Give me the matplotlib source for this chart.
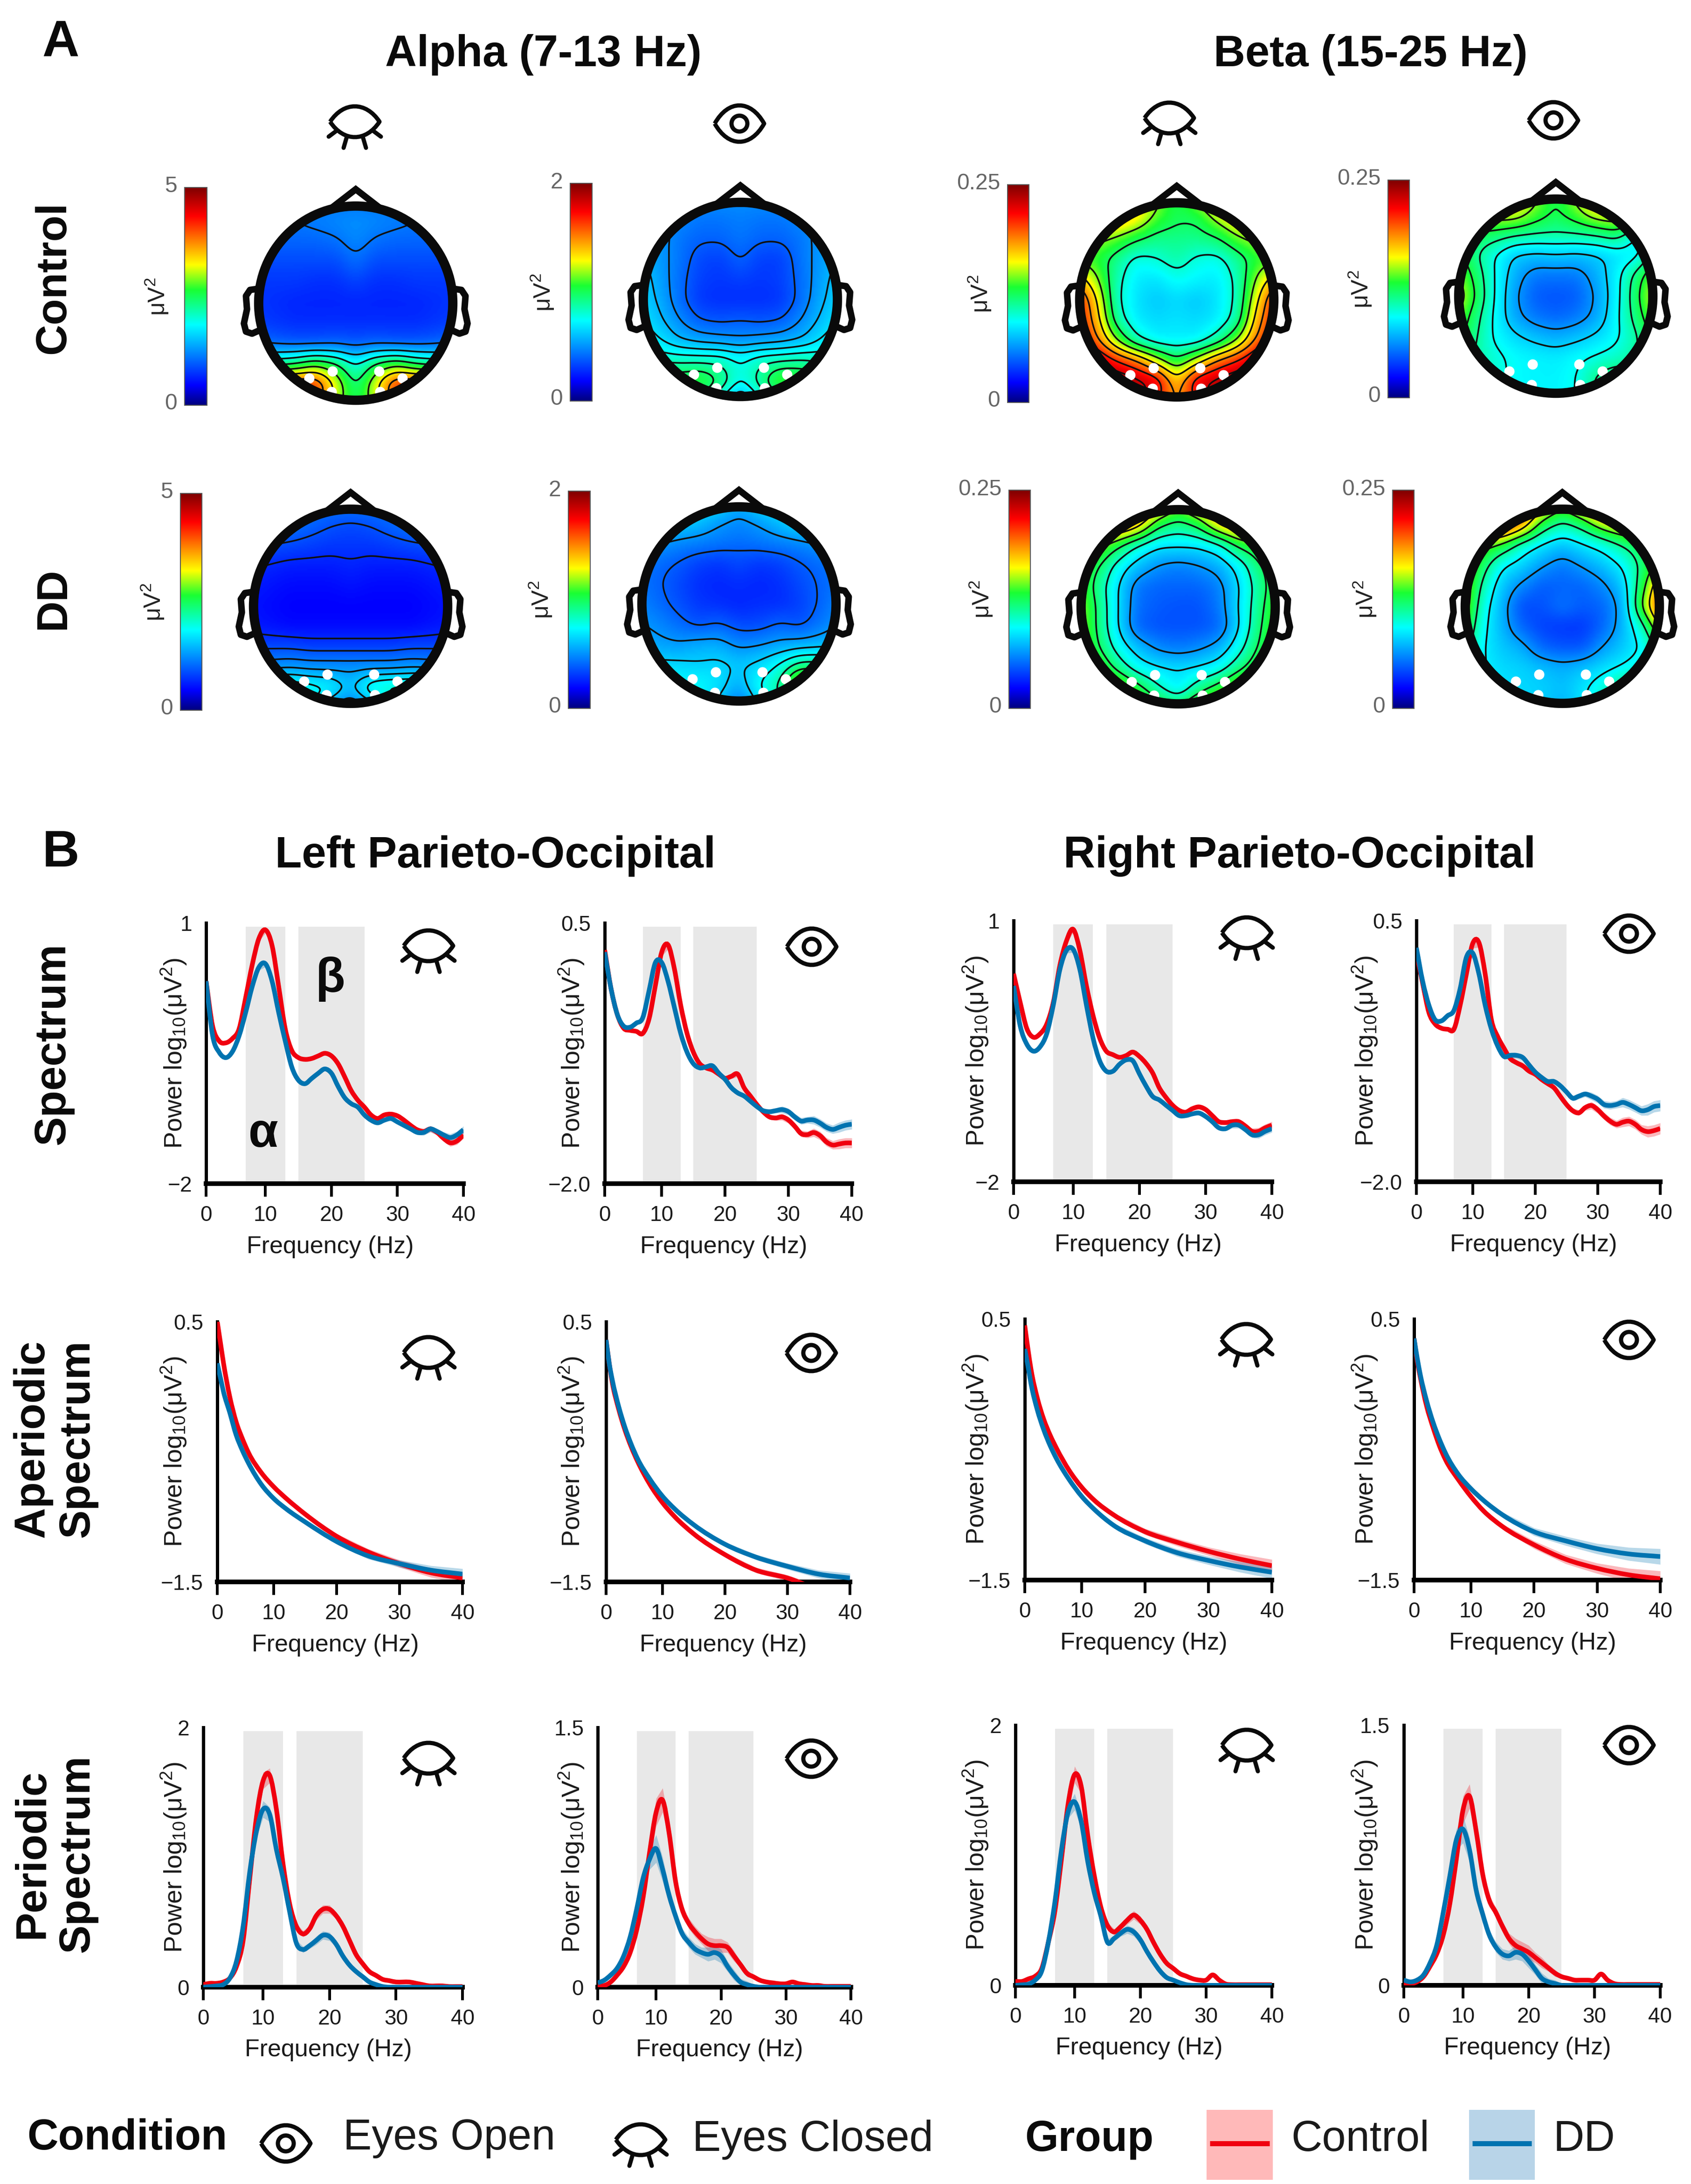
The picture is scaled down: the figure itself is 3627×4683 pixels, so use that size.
#!/usr/bin/env python3
import numpy as np
import matplotlib
matplotlib.use('Agg')
import matplotlib.pyplot as plt
from matplotlib.colors import LinearSegmentedColormap
from matplotlib.patches import Circle, PathPatch, Rectangle
from matplotlib.path import Path

W, H = 3627, 4683
RED = '#f0000f'
BLUE = '#0073b0'
GREY_BAND = '#e8e8e8'

plt.rcParams['font.family'] = ['Liberation Sans', 'DejaVu Sans']
plt.rcParams['mathtext.default'] = 'regular'

# topomap values as fraction of the colour bar, rows run front to back
MAP_CTRL_ALPHA_EC = [
    [.22, .22, .22, .22, .22, .22, .22, .22, .22, .22, .22],
    [.22, .22, .22, .23, .24, .25, .24, .23, .22, .22, .22],
    [.20, .20, .20, .20, .21, .24, .21, .20, .20, .20, .20],
    [.17, .17, .17, .17, .17, .21, .17, .17, .17, .17, .17],
    [.15, .15, .15, .14, .14, .16, .14, .14, .15, .15, .15],
    [.15, .14, .13, .13, .13, .13, .13, .13, .13, .14, .15],
    [.16, .15, .14, .14, .14, .14, .14, .14, .14, .15, .16],
    [.22, .20, .19, .19, .20, .19, .20, .19, .19, .20, .22],
    [.45, .45, .48, .55, .50, .38, .50, .55, .48, .45, .45],
    [.85, .85, .84, .84, .64, .46, .64, .84, .84, .85, .85],
    [.80, .80, .80, .78, .60, .50, .60, .78, .80, .80, .80],
]
MAP_CTRL_ALPHA_EO = [
    [.25, .25, .25, .25, .25, .25, .25, .25, .25, .25, .25],
    [.26, .26, .24, .22, .22, .23, .22, .22, .24, .26, .26],
    [.28, .26, .22, .20, .20, .22, .20, .20, .22, .26, .28],
    [.30, .26, .22, .17, .16, .20, .16, .16, .22, .26, .30],
    [.32, .27, .21, .16, .15, .16, .15, .16, .21, .27, .32],
    [.33, .28, .21, .15, .14, .14, .14, .15, .21, .28, .33],
    [.35, .30, .24, .19, .18, .19, .18, .19, .24, .30, .35],
    [.38, .34, .29, .27, .26, .25, .26, .27, .29, .34, .38],
    [.42, .42, .42, .42, .42, .38, .42, .43, .44, .42, .42],
    [.52, .54, .52, .54, .48, .38, .46, .56, .54, .52, .52],
    [.50, .50, .46, .45, .38, .25, .38, .45, .46, .50, .50],
]
MAP_DD_ALPHA_EC = [
    [.22, .22, .22, .22, .22, .22, .22, .22, .22, .22, .22],
    [.22, .22, .22, .20, .18, .17, .18, .20, .22, .22, .22],
    [.19, .18, .17, .16, .15, .15, .15, .16, .17, .18, .19],
    [.14, .13, .12, .12, .12, .13, .12, .12, .12, .13, .14],
    [.12, .11, .10, .10, .10, .11, .10, .10, .10, .11, .12],
    [.11, .10, .09, .09, .09, .09, .09, .09, .09, .10, .11],
    [.12, .11, .10, .10, .10, .10, .10, .10, .10, .11, .12],
    [.17, .17, .17, .16, .16, .16, .16, .16, .17, .17, .17],
    [.25, .25, .26, .25, .25, .25, .25, .25, .26, .25, .25],
    [.35, .40, .40, .38, .36, .30, .40, .42, .42, .45, .45],
    [.32, .36, .36, .35, .26, .20, .26, .35, .40, .42, .42],
]
MAP_DD_ALPHA_EO = [
    [.36, .36, .36, .36, .34, .28, .34, .36, .36, .36, .36],
    [.32, .32, .32, .30, .26, .24, .26, .30, .34, .34, .32],
    [.26, .26, .24, .23, .22, .21, .22, .23, .24, .26, .26],
    [.22, .21, .19, .16, .15, .17, .15, .16, .19, .21, .22],
    [.22, .20, .17, .14, .13, .14, .13, .14, .17, .20, .22],
    [.24, .21, .18, .15, .14, .13, .14, .14, .16, .20, .24],
    [.26, .24, .21, .18, .20, .17, .17, .20, .18, .22, .26],
    [.29, .27, .26, .28, .28, .24, .25, .27, .28, .29, .30],
    [.33, .33, .33, .32, .33, .31, .33, .38, .46, .46, .42],
    [.38, .38, .37, .37, .34, .28, .38, .44, .66, .62, .50],
    [.36, .36, .36, .36, .30, .20, .32, .42, .54, .54, .50],
]
MAP_CTRL_BETA_EC = [
    [.75, .75, .75, .70, .60, .50, .60, .70, .75, .75, .75],
    [.72, .72, .72, .66, .55, .50, .50, .60, .68, .72, .72],
    [.60, .60, .56, .50, .46, .46, .46, .48, .56, .60, .60],
    [.55, .53, .46, .38, .40, .44, .39, .38, .45, .53, .55],
    [.72, .60, .43, .35, .34, .38, .36, .35, .42, .60, .72],
    [.88, .68, .42, .34, .31, .33, .31, .34, .42, .66, .88],
    [.88, .72, .45, .35, .33, .34, .33, .35, .44, .72, .88],
    [.88, .78, .58, .42, .36, .36, .36, .44, .58, .78, .88],
    [.98, .95, .84, .76, .62, .50, .62, .76, .84, .95, .98],
    [1.0, 1.0, 1.0, .95, .90, .68, .90, .95, 1.0, 1.0, 1.0],
    [1.0, 1.0, 1.0, .95, .85, .72, .85, .95, 1.0, 1.0, 1.0],
]
MAP_CTRL_BETA_EO = [
    [.70, .70, .70, .70, .60, .50, .60, .72, .72, .70, .70],
    [.60, .60, .62, .62, .55, .50, .55, .62, .64, .62, .60],
    [.50, .50, .48, .45, .44, .44, .44, .45, .48, .36, .40],
    [.55, .46, .38, .31, .30, .31, .30, .31, .34, .36, .50],
    [.60, .50, .38, .28, .22, .22, .22, .28, .36, .48, .60],
    [.65, .52, .38, .26, .19, .18, .19, .26, .36, .50, .65],
    [.60, .48, .37, .27, .22, .20, .22, .27, .37, .48, .60],
    [.55, .46, .37, .33, .30, .28, .30, .33, .37, .44, .55],
    [.50, .44, .40, .37, .36, .35, .37, .39, .41, .45, .50],
    [.45, .44, .40, .37, .36, .36, .38, .46, .50, .45, .45],
    [.45, .45, .42, .38, .36, .36, .38, .46, .48, .45, .45],
]
MAP_DD_BETA_EC = [
    [.80, .80, .80, .80, .70, .58, .68, .75, .75, .75, .75],
    [.75, .75, .75, .68, .50, .45, .50, .65, .72, .72, .72],
    [.62, .60, .50, .40, .34, .34, .34, .38, .50, .55, .60],
    [.58, .50, .38, .30, .25, .23, .25, .28, .36, .48, .55],
    [.58, .46, .34, .22, .20, .20, .20, .23, .33, .45, .55],
    [.62, .48, .34, .21, .19, .18, .18, .22, .34, .46, .58],
    [.62, .48, .34, .20, .18, .18, .18, .20, .33, .48, .58],
    [.62, .50, .38, .30, .24, .22, .24, .28, .38, .50, .58],
    [.66, .58, .46, .37, .34, .33, .34, .37, .46, .55, .62],
    [.68, .68, .62, .52, .42, .35, .45, .52, .62, .68, .68],
    [.70, .70, .68, .62, .55, .50, .60, .68, .72, .72, .70],
]
MAP_DD_BETA_EO = [
    [.95, .95, .95, .85, .70, .58, .70, .85, .90, .85, .85],
    [.85, .85, .85, .72, .50, .42, .48, .60, .66, .66, .66],
    [.58, .58, .52, .40, .34, .30, .34, .38, .45, .52, .58],
    [.62, .50, .36, .32, .26, .22, .26, .30, .36, .48, .60],
    [.66, .44, .31, .24, .19, .20, .20, .24, .31, .52, .80],
    [.66, .40, .29, .17, .18, .22, .19, .20, .28, .58, .88],
    [.60, .38, .29, .20, .16, .15, .15, .20, .29, .42, .70],
    [.52, .36, .31, .28, .20, .18, .18, .26, .31, .36, .52],
    [.46, .36, .33, .32, .30, .28, .30, .33, .36, .40, .48],
    [.42, .38, .34, .33, .32, .30, .34, .40, .48, .48, .46],
    [.42, .38, .34, .33, .32, .28, .34, .42, .50, .50, .46],
]
ELECTRODE_X = [-.46, -.23, -.24, .23, .24, .46]
ELECTRODE_Y = [-.74, -.67, -.87, -.67, -.87, -.74]
SCALE_LABELS = ['5', '2', '5', '2', '0.25', '0.25', '0.25', '0.25']

# frequency grids (Hz)
FREQ = list(range(1, 41))
FREQ_APERIODIC = [1, 1.5, 2, 3, 4, 5, 6, 8, 10, 12, 15, 20, 25, 30, 35, 40]

# full spectrum, log10 power
SPEC_L_EC_CTRL = [.33, -.19, -.36, -.38, -.33, -.22, .14, .52, .82, .92, .74, .27, -.22, -.47, -.55, -.57, -.56, -.53, -.50, -.53,
                  -.62, -.77, -.93, -1.04, -1.12, -1.21, -1.25, -1.21, -1.20, -1.22, -1.27, -1.33, -1.38, -1.40, -1.37, -1.41, -1.48, -1.53, -1.51, -1.44]
SPEC_L_EC_DD = [.33, -.30, -.49, -.55, -.48, -.30, -.03, .27, .49, .53, .33, -.03, -.36, -.66, -.81, -.85, -.79, -.73, -.68, -.73,
                -.88, -1.01, -1.08, -1.12, -1.21, -1.27, -1.30, -1.27, -1.25, -1.29, -1.33, -1.37, -1.41, -1.41, -1.37, -1.40, -1.44, -1.47, -1.44, -1.38]
SPEC_L_EO_CTRL = [.24, -.13, -.38, -.51, -.53, -.54, -.56, -.42, -.10, .22, .29, .06, -.29, -.56, -.74, -.85, -.89, -.91, -.95, -.99,
                  -.97, -.95, -1.08, -1.16, -1.24, -1.31, -1.36, -1.37, -1.36, -1.39, -1.45, -1.52, -1.53, -1.51, -1.54, -1.60, -1.63, -1.62, -1.61, -1.61]
SPEC_L_EO_DD = [.22, -.13, -.38, -.49, -.50, -.46, -.41, -.15, .12, .12, -.06, -.31, -.56, -.74, -.85, -.89, -.88, -.87, -.94, -1.00,
                -1.08, -1.13, -1.16, -1.21, -1.26, -1.30, -1.31, -1.30, -1.29, -1.31, -1.36, -1.40, -1.39, -1.39, -1.42, -1.46, -1.48, -1.46, -1.44, -1.43]
SPEC_R_EC_CTRL = [.39, .06, -.24, -.34, -.30, -.19, .06, .49, .77, .90, .66, .25, -.09, -.35, -.50, -.54, -.57, -.55, -.51, -.56,
                  -.64, -.75, -.92, -1.03, -1.12, -1.18, -1.20, -1.16, -1.14, -1.17, -1.24, -1.31, -1.32, -1.31, -1.31, -1.36, -1.42, -1.42, -1.38, -1.35]
SPEC_R_EC_DD = [.25, -.21, -.42, -.50, -.45, -.30, .03, .44, .66, .67, .44, .03, -.35, -.61, -.73, -.73, -.65, -.60, -.61, -.76,
                -.90, -1.02, -1.06, -1.12, -1.18, -1.24, -1.24, -1.22, -1.21, -1.25, -1.31, -1.38, -1.39, -1.35, -1.35, -1.40, -1.46, -1.46, -1.42, -1.39]
SPEC_R_EO_CTRL = [.19, -.10, -.38, -.49, -.53, -.54, -.54, -.31, -.01, .28, .29, -.01, -.45, -.61, -.72, -.82, -.86, -.89, -.94, -.97,
                  -1.02, -1.06, -1.10, -1.18, -1.26, -1.32, -1.34, -1.29, -1.27, -1.31, -1.37, -1.42, -1.45, -1.43, -1.42, -1.45, -1.50, -1.52, -1.51, -1.49]
SPEC_R_EO_DD = [.24, -.08, -.31, -.45, -.46, -.41, -.36, -.15, .15, .19, -.01, -.31, -.54, -.70, -.80, -.79, -.79, -.81, -.88, -.95,
                -1.00, -1.04, -1.04, -1.08, -1.14, -1.20, -1.18, -1.16, -1.18, -1.21, -1.26, -1.27, -1.26, -1.24, -1.26, -1.29, -1.32, -1.31, -1.28, -1.27]

# aperiodic component
APER_L_EC_CTRL = [.50, .34, .18, -.08, -.27, -.40, -.51, -.66, -.77, -.86, -.98, -1.15, -1.27, -1.36, -1.43, -1.47]
APER_L_EC_DD = [.18, .07, -.04, -.20, -.37, -.49, -.59, -.75, -.86, -.94, -1.04, -1.19, -1.30, -1.36, -1.41, -1.44]
APER_L_EO_CTRL = [.36, .18, .03, -.17, -.33, -.46, -.57, -.75, -.89, -1.00, -1.13, -1.29, -1.41, -1.47, -1.56, -1.64]
APER_L_EO_DD = [.36, .18, .05, -.15, -.31, -.44, -.55, -.71, -.84, -.94, -1.06, -1.21, -1.31, -1.38, -1.44, -1.47]
APER_R_EC_CTRL = [.45, .27, .11, -.11, -.27, -.39, -.49, -.66, -.79, -.89, -1.00, -1.13, -1.21, -1.28, -1.34, -1.39]
APER_R_EC_DD = [.27, .14, .00, -.20, -.35, -.47, -.57, -.73, -.86, -.96, -1.08, -1.20, -1.29, -1.35, -1.40, -1.44]
APER_R_EO_CTRL = [.35, .18, .05, -.17, -.33, -.47, -.58, -.73, -.86, -.97, -1.09, -1.23, -1.34, -1.41, -1.46, -1.49]
APER_R_EO_DD = [.35, .20, .07, -.13, -.29, -.42, -.53, -.69, -.80, -.89, -1.00, -1.13, -1.20, -1.26, -1.30, -1.32]

# periodic component
PER_L_EC_CTRL = [.02, .03, .03, .04, .07, .16, .36, .84, 1.31, 1.59, 1.63, 1.37, .95, .64, .47, .41, .45, .55, .60, .60,
                 .55, .47, .36, .25, .18, .12, .09, .06, .05, .04, .04, .04, .03, .02, .01, .01, .01, .005, .005, .005]
PER_L_EC_DD = [0, .005, .01, .02, .07, .20, .47, .89, 1.20, 1.37, 1.33, 1.06, .84, .58, .34, .29, .32, .36, .40, .39,
               .33, .24, .17, .12, .08, .04, .02, .005, 0, 0, 0, 0, 0, 0, 0, 0, 0, 0, 0, 0]
PER_L_EO_CTRL = [.01, .01, .03, .07, .12, .20, .33, .52, .78, 1.01, 1.08, .89, .61, .45, .37, .32, .28, .25, .24, .24,
                 .23, .18, .13, .08, .06, .04, .03, .025, .02, .02, .03, .02, .015, .01, .01, .005, .005, .005, .005, .005]
PER_L_EO_DD = [.025, .04, .07, .11, .18, .29, .45, .63, .74, .80, .68, .53, .41, .31, .26, .22, .20, .19, .20, .18,
               .12, .07, .03, .015, .005, 0, 0, 0, 0, 0, 0, 0, 0, 0, 0, 0, 0, 0, 0, 0]
PER_R_EC_CTRL = [.03, .03, .05, .07, .13, .33, .57, .97, 1.39, 1.62, 1.53, 1.15, .84, .60, .46, .41, .45, .50, .54, .50,
                 .43, .33, .24, .17, .13, .09, .07, .05, .04, .04, .08, .04, .01, .005, .005, .005, .005, .005, .005, .005]
PER_R_EC_DD = [0, .004, .01, .04, .11, .33, .64, 1.04, 1.33, 1.41, 1.26, .95, .71, .53, .33, .36, .40, .43, .41, .35,
               .26, .18, .11, .06, .04, .02, .005, 0, 0, 0, 0, 0, 0, 0, 0, 0, 0, 0, 0, 0]
PER_R_EO_CTRL = [.01, .01, .02, .05, .11, .18, .29, .47, .73, 1.01, 1.09, .89, .64, .49, .42, .34, .27, .23, .21, .19,
                 .16, .13, .10, .07, .05, .04, .03, .03, .03, .03, .065, .03, .01, .005, .005, .005, .005, .005, .005, .005]
PER_R_EO_DD = [.03, .02, .03, .06, .13, .23, .42, .63, .84, .90, .78, .55, .41, .29, .22, .18, .17, .19, .18, .14,
               .09, .04, .02, .01, 0, 0, 0, 0, 0, 0, 0, 0, 0, 0, 0, 0, 0, 0, 0, 0]

# standard error per row
SEM_SPEC = [.02, .02, .02, .02, .02, .02, .03, .04, .05, .05, .05, .04, .03, .03, .03, .03, .03, .03, .03, .03,
            .03, .03, .03, .03, .03, .03, .03, .03, .04, .04, .04, .04, .04, .05, .05, .05, .05, .06, .06, .06]
SEM_APER = [.005, .005, .005, .005, .005, .005, .01, .01, .015, .02, .02, .03, .035, .04, .05, .06]
SEM_PER = [.005, .005, .005, .005, .005, .01, .02, .04, .06, .08, .07, .05, .04, .03, .03, .03, .03, .04, .04, .04,
           .03, .03, .02, .02, .01, .01, .005, .005, .005, .005, .005, .005, .005, .005, .005, .005, .005, .005, .005, .005]

XTICKS = [1, 10, 20, 30, 40]
XTICK_LABELS = ['0', '10', '20', '30', '40']


def fs(px):
    return px * 0.72


def lw(px):
    return px * 0.72


CMAP = LinearSegmentedColormap.from_list('topo', [
    (0.0, (0.0, 0.0, 0.5)), (0.09, (0.0, 0.0, 1.0)), (0.37, (0.0, 1.0, 1.0)),
    (0.53, (0.1, 1.0, 0.2)), (0.645, (1.0, 1.0, 0.0)), (0.87, (1.0, 0.0, 0.0)),
    (1.0, (0.5, 0.0, 0.0))])

fig = plt.figure(figsize=(W / 100, H / 100), dpi=100, facecolor='white')
pix = fig.add_axes([0, 0, 1, 1], zorder=10)
pix.set_xlim(0, W)
pix.set_ylim(H, 0)
pix.axis('off')
pix.patch.set_alpha(0)


def px_axes(x0, y0, x1, y1, **kw):
    return fig.add_axes([x0 / W, 1 - y1 / H, (x1 - x0) / W, (y1 - y0) / H], **kw)


def smooth_grid(grid, n=161, win=11, passes=2):
    grid = np.asarray(grid, dtype=float)
    src = np.linspace(-1, 1, grid.shape[0])
    dst = np.linspace(-1, 1, n)
    up = np.array([np.interp(dst, src, row) for row in grid])
    up = np.array([np.interp(dst, src, col) for col in up.T]).T
    kernel = np.ones(win) / win
    for _ in range(passes):
        up = np.pad(up, win, mode='edge')
        up = np.apply_along_axis(lambda v: np.convolve(v, kernel, mode='same'), 0, up)
        up = np.apply_along_axis(lambda v: np.convolve(v, kernel, mode='same'), 1, up)
        up = up[win:-win, win:-win]
    return dst, up


def draw_topomap(grid, cx, cy, bar, label):
    r = 218
    ax = px_axes(cx - r * 1.4, cy - r * 1.4, cx + r * 1.4, cy + r * 1.4)
    ax.set_xlim(-1.4, 1.4)
    ax.set_ylim(-1.4, 1.4)
    ax.axis('off')
    coord, z = smooth_grid(grid)
    clip = Circle((0, 0), 0.96, transform=ax.transData)
    im = ax.imshow(z, extent=(-1, 1, -1, 1), origin='upper', cmap=CMAP, vmin=0, vmax=1,
                   interpolation='bilinear', zorder=1)
    im.set_clip_path(clip)
    levels = np.linspace(z.min(), z.max(), 9)[1:-1]
    cs = ax.contour(coord, coord[::-1], z, levels=levels, colors='#101010', linewidths=lw(3.5), zorder=2)
    cs.set_clip_path(clip)
    ax.scatter(ELECTRODE_X, ELECTRODE_Y, s=(22 * 0.72) ** 2, color='white', zorder=3, linewidths=0)
    ax.add_patch(Circle((0, 0), 0.955, fill=False, ec='#0a0a0a', lw=lw(20), zorder=4))
    ax.plot([-.22, 0, .22], [.95, 1.12, .95], color='#0a0a0a', lw=lw(14), solid_joinstyle='miter', zorder=4)
    for sign in (-1, 1):
        ax.plot([sign * v for v in (.97, 1.04, 1.08, 1.07, 1.10, 1.08, 1.02, .93)],
                [.14, .13, .07, -.06, -.20, -.28, -.30, -.26],
                color='#0a0a0a', lw=lw(14), solid_joinstyle='round', solid_capstyle='round', zorder=3)

    x0, y0, x1, y1 = bar
    cax = px_axes(x0, y0, x1, y1)
    cax.imshow(np.linspace(1, 0, 256)[:, None], aspect='auto', cmap=CMAP, vmin=0, vmax=1)
    cax.set_xticks([])
    cax.set_yticks([])
    for s in cax.spines.values():
        s.set_color('#555555')
        s.set_linewidth(lw(2))
    pix.text(x0 - 16, y0 - 2, label, ha='right', va='center', fontsize=fs(48), color='#666666')
    pix.text(x0 - 16, y1 - 4, '0', ha='right', va='center', fontsize=fs(48), color='#666666')
    pix.text(x0 - 60, (y0 + y1) / 2, 'μV$^{2}$', rotation=90, ha='center', va='center',
             fontsize=fs(50), color='#222222')


def almond(cx, cy, w, h):
    a = w / 2
    b = h / 0.75 / 2
    verts = [(cx - a, cy), (cx - a * .45, cy - b), (cx + a * .45, cy - b), (cx + a, cy),
             (cx + a * .45, cy + b), (cx - a * .45, cy + b), (cx - a, cy)]
    codes = [Path.MOVETO] + [Path.CURVE4] * 6
    return PathPatch(Path(verts, codes), fill=False, ec='#0a0a0a', lw=lw(9), joinstyle='round')


def draw_eye(cx, cy, closed):
    if closed:
        pix.add_patch(almond(cx, cy, 106, 66))
        for x_a, y_a, x_b, y_b in ((-40, 20, -56, 32), (-17, 32, -24, 56), (17, 32, 24, 56), (40, 20, 56, 32)):
            pix.plot([cx + x_a, cx + x_b], [cy + y_a, cy + y_b], color='#0a0a0a', lw=lw(9),
                     solid_capstyle='round')
    else:
        pix.add_patch(almond(cx, cy, 106, 78))
        pix.add_patch(Circle((cx, cy), 17, fill=False, ec='#0a0a0a', lw=lw(9)))


def curve_path(freq, values):
    # bezier through the read points so the peaks stay round
    slope = np.gradient(values, freq)
    verts = [(freq[0], values[0])]
    for i in range(len(freq) - 1):
        h = (freq[i + 1] - freq[i]) / 3
        verts.append((freq[i] + h, values[i] + h * slope[i]))
        verts.append((freq[i + 1] - h, values[i + 1] - h * slope[i + 1]))
        verts.append((freq[i + 1], values[i + 1]))
    return Path(verts, [Path.MOVETO] + [Path.CURVE4] * (len(verts) - 1))


def draw_panel(box, label_x, ylim, yticklabels, freq, ctrl, dd, sem, sem_scale, bands):
    x0, y0, x1, y1 = box
    ax = px_axes(x0, y0, x1, y1)
    ax.set_xlim(1, 40)
    ax.set_ylim(*ylim)
    if bands:
        ax.axvspan(7, 13, ymax=.985, color=GREY_BAND, lw=0, zorder=1)
        ax.axvspan(15, 25, ymax=.985, color=GREY_BAND, lw=0, zorder=1)
    freq = np.asarray(freq, dtype=float)
    err = np.asarray(sem) * sem_scale
    for values, color in ((ctrl, RED), (dd, BLUE)):
        values = np.asarray(values)
        ax.fill_between(freq, values - err, values + err, color=color, alpha=.28, lw=0, zorder=2)
        ax.add_patch(PathPatch(curve_path(freq, values), fill=False, ec=color, lw=lw(10), zorder=3,
                               capstyle='butt'))
    for name in ('top', 'right'):
        ax.spines[name].set_visible(False)
    ax.spines['left'].set_linewidth(lw(7))
    ax.spines['bottom'].set_linewidth(lw(10))
    ax.set_xticks(XTICKS)
    ax.set_xticklabels(XTICK_LABELS)
    ax.set_yticks(list(ylim))
    ax.set_yticklabels(yticklabels)
    ax.tick_params(axis='x', length=20, width=lw(6), pad=lw(18), labelsize=fs(46), labelcolor='#1a1a1a')
    ax.tick_params(axis='y', length=0, pad=lw(30), labelsize=fs(46), labelcolor='#1a1a1a')
    ax.patch.set_alpha(0)
    pix.text((x0 + x1) / 2 - 10, y1 + 135, 'Frequency (Hz)', ha='center', va='center',
             fontsize=fs(52), color='#1a1a1a')
    pix.text(label_x, (y0 + y1) / 2, 'Power log$_{10}$(μV$^{2}$)', rotation=90, ha='center', va='center',
             fontsize=fs(54), color='#1a1a1a')


# panel A
MAPS = [MAP_CTRL_ALPHA_EC, MAP_CTRL_ALPHA_EO, MAP_CTRL_BETA_EC, MAP_CTRL_BETA_EO,
        MAP_DD_ALPHA_EC, MAP_DD_ALPHA_EO, MAP_DD_BETA_EC, MAP_DD_BETA_EO]
MAP_CENTERS = [(763, 650), (1588, 642), (2524, 643), (3337, 635),
               (752, 1300), (1585, 1295), (2527, 1301), (3351, 1300)]
MAP_BARS = [(396, 402, 444, 869), (1223, 393, 1270, 860), (2161, 396, 2207, 863), (2977, 386, 3023, 853),
            (387, 1058, 433, 1523), (1219, 1053, 1266, 1519), (2164, 1051, 2210, 1519), (2987, 1051, 3033, 1519)]
MAP_LABELS = [SCALE_LABELS[0], SCALE_LABELS[1], SCALE_LABELS[4], SCALE_LABELS[5],
              SCALE_LABELS[2], SCALE_LABELS[3], SCALE_LABELS[6], SCALE_LABELS[7]]
for grid, (cx, cy), bar, label in zip(MAPS, MAP_CENTERS, MAP_BARS, MAP_LABELS):
    draw_topomap(grid, cx, cy, bar, label)

for cx, cy, closed in ((761, 261, True), (1586, 265, False), (2508, 253, True), (3332, 258, False)):
    draw_eye(cx, cy, closed)

# panel B
LABEL_X = [373, 1226, 2093, 2928]
SPEC_BOXES = [(442, 1979, 994, 2538), (1297, 1979, 1827, 2538), (2174, 1974, 2728, 2534), (3038, 1974, 3561, 2534)]
APER_BOXES = [(466, 2834, 992, 3392), (1300, 2834, 1823, 3392), (2198, 2828, 2728, 3388), (3033, 2828, 3561, 3388)]
PER_BOXES = [(436, 3704, 992, 4261), (1282, 3704, 1825, 4261), (2178, 3699, 2728, 4257), (3011, 3699, 3561, 4257)]

draw_panel(SPEC_BOXES[0], LABEL_X[0], (-2, 1), ['−2', '1'], FREQ, SPEC_L_EC_CTRL, SPEC_L_EC_DD, SEM_SPEC, .7, True)
draw_panel(SPEC_BOXES[1], LABEL_X[1], (-2, .5), ['−2.0', '0.5'], FREQ, SPEC_L_EO_CTRL, SPEC_L_EO_DD, SEM_SPEC, .8, True)
draw_panel(SPEC_BOXES[2], LABEL_X[2], (-2, 1), ['−2', '1'], FREQ, SPEC_R_EC_CTRL, SPEC_R_EC_DD, SEM_SPEC, .7, True)
draw_panel(SPEC_BOXES[3], LABEL_X[3], (-2, .5), ['−2.0', '0.5'], FREQ, SPEC_R_EO_CTRL, SPEC_R_EO_DD, SEM_SPEC, .9, True)

draw_panel(APER_BOXES[0], LABEL_X[0], (-1.5, .5), ['−1.5', '0.5'], FREQ_APERIODIC, APER_L_EC_CTRL, APER_L_EC_DD, SEM_APER, .7, False)
draw_panel(APER_BOXES[1], LABEL_X[1], (-1.5, .5), ['−1.5', '0.5'], FREQ_APERIODIC, APER_L_EO_CTRL, APER_L_EO_DD, SEM_APER, .6, False)
draw_panel(APER_BOXES[2], LABEL_X[2], (-1.5, .5), ['−1.5', '0.5'], FREQ_APERIODIC, APER_R_EC_CTRL, APER_R_EC_DD, SEM_APER, .8, False)
draw_panel(APER_BOXES[3], LABEL_X[3], (-1.5, .5), ['−1.5', '0.5'], FREQ_APERIODIC, APER_R_EO_CTRL, APER_R_EO_DD, SEM_APER, 1.0, False)

draw_panel(PER_BOXES[0], LABEL_X[0], (0, 2), ['0', '2'], FREQ, PER_L_EC_CTRL, PER_L_EC_DD, SEM_PER, .8, True)
draw_panel(PER_BOXES[1], LABEL_X[1], (0, 1.5), ['0', '1.5'], FREQ, PER_L_EO_CTRL, PER_L_EO_DD, SEM_PER, 1.0, True)
draw_panel(PER_BOXES[2], LABEL_X[2], (0, 2), ['0', '2'], FREQ, PER_R_EC_CTRL, PER_R_EC_DD, SEM_PER, .8, True)
draw_panel(PER_BOXES[3], LABEL_X[3], (0, 1.5), ['0', '1.5'], FREQ, PER_R_EO_CTRL, PER_R_EO_DD, SEM_PER, 1.0, True)

for cx, cy, closed in ((919, 2028, True), (1741, 2030, False), (2674, 2000, True), (3494, 2002, False),
                       (919, 2900, True), (1740, 2901, False), (2673, 2872, True), (3494, 2873, False),
                       (919, 3770, True), (1740, 3771, False), (2674, 3742, True), (3494, 3742, False)):
    draw_eye(cx, cy, closed)

bold = dict(fontweight='bold', color='#0a0a0a')
pix.text(130, 92, 'A', ha='center', va='center', fontsize=fs(110), **bold)
pix.text(130, 1830, 'B', ha='center', va='center', fontsize=fs(110), **bold)
pix.text(1165, 118, 'Alpha (7-13 Hz)', ha='center', va='center', fontsize=fs(94), **bold)
pix.text(2940, 118, 'Beta (15-25 Hz)', ha='center', va='center', fontsize=fs(94), **bold)
pix.text(115, 595, 'Control', rotation=90, ha='center', va='center', fontsize=fs(92), **bold)
pix.text(115, 1283, 'DD', rotation=90, ha='center', va='center', fontsize=fs(92), **bold)
pix.text(1062, 1836, 'Left Parieto-Occipital', ha='center', va='center', fontsize=fs(94), **bold)
pix.text(2787, 1836, 'Right Parieto-Occipital', ha='center', va='center', fontsize=fs(94), **bold)
pix.text(114, 2238, 'Spectrum', rotation=90, ha='center', va='center', fontsize=fs(94), **bold)
pix.text(118, 3085, 'Aperiodic\nSpectrum', rotation=90, ha='center', va='center', ma='center',
         fontsize=fs(92), linespacing=1.15, **bold)
pix.text(118, 3975, 'Periodic\nSpectrum', rotation=90, ha='center', va='center', ma='center',
         fontsize=fs(92), linespacing=1.15, **bold)
pix.text(565, 2433, 'α', ha='center', va='center', fontsize=fs(104), **bold)
pix.text(708, 2100, 'β', ha='center', va='center', fontsize=fs(104), **bold)

# legend
pix.text(58, 4585, 'Condition', ha='left', va='center', fontsize=fs(92), **bold)
draw_eye(613, 4596, False)
pix.text(736, 4585, 'Eyes Open', ha='left', va='center', fontsize=fs(92), color='#1a1a1a')
draw_eye(1374, 4588, True)
pix.text(1485, 4588, 'Eyes Closed', ha='left', va='center', fontsize=fs(92), color='#1a1a1a')
pix.text(2198, 4588, 'Group', ha='left', va='center', fontsize=fs(92), **bold)
pix.add_patch(Rectangle((2588, 4524), 142, 150, fc='#ffb9b9', ec='none'))
pix.plot([2595, 2723], [4596, 4596], color=RED, lw=lw(11), solid_capstyle='butt')
pix.text(2769, 4588, 'Control', ha='left', va='center', fontsize=fs(92), color='#1a1a1a')
pix.add_patch(Rectangle((3151, 4524), 141, 150, fc='#b8d4e8', ec='none'))
pix.plot([3158, 3285], [4596, 4596], color=BLUE, lw=lw(11), solid_capstyle='butt')
pix.text(3331, 4588, 'DD', ha='left', va='center', fontsize=fs(92), color='#1a1a1a')

fig.savefig('out.png', dpi=100)
